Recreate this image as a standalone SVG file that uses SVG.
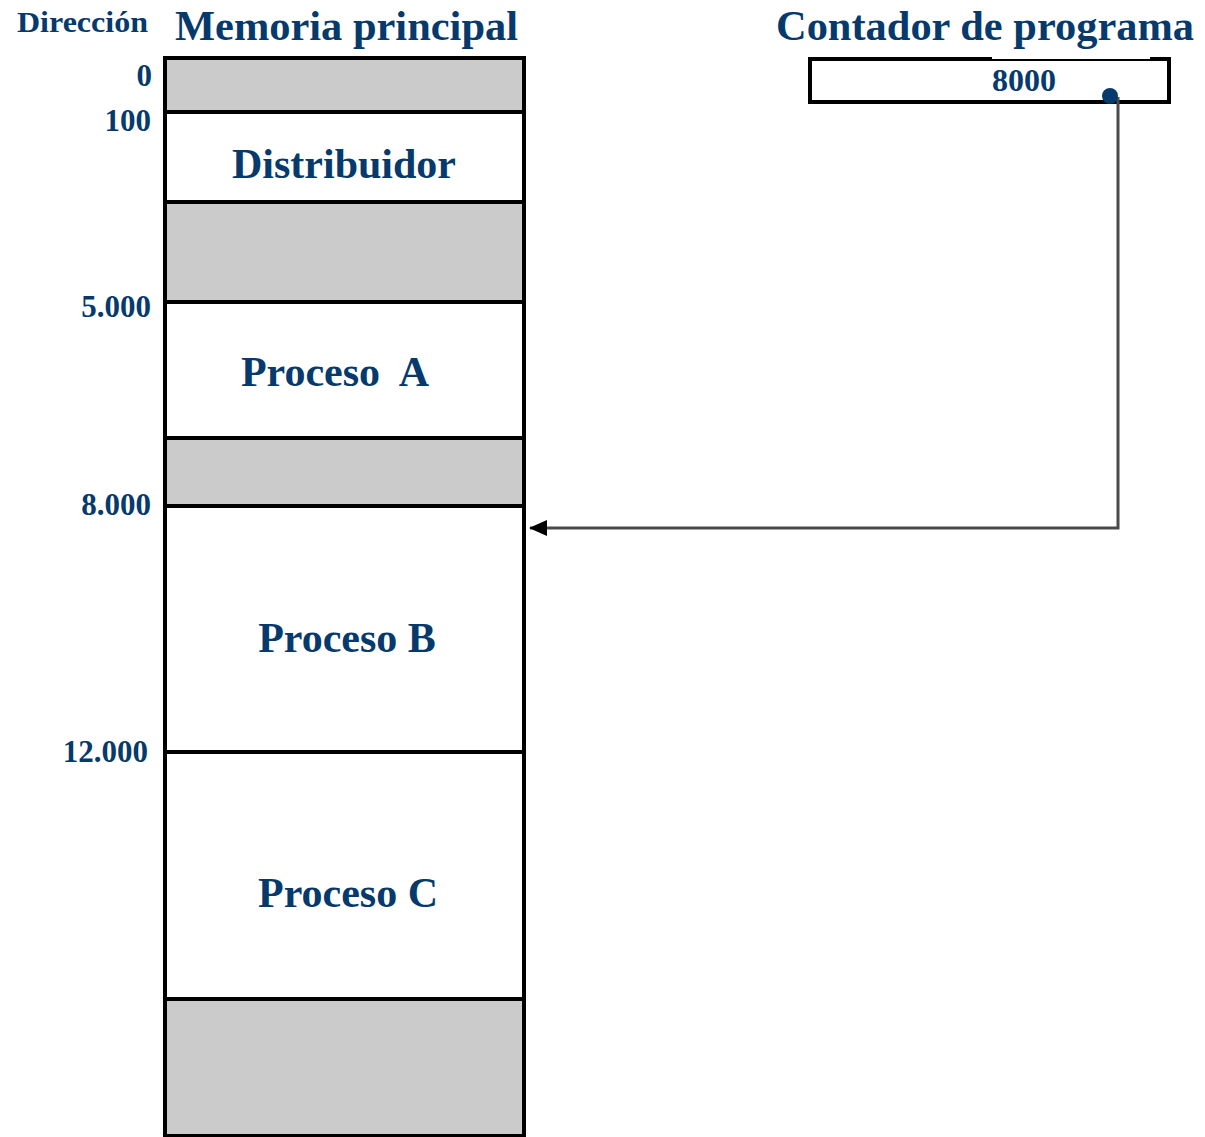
<svg xmlns="http://www.w3.org/2000/svg" width="1205" height="1137" viewBox="0 0 1205 1137">
<style>
text{font-family:"Liberation Serif","Times New Roman",serif;font-weight:bold;fill:#063a6c}
.seg{stroke:#000;stroke-width:4}
.free{fill:#cbcbcb}
.used{fill:#fff}
.big{font-size:42px}
.num{font-size:31px;text-anchor:end}
.lbl{font-size:42px;text-anchor:middle}
.conn{fill:none;stroke:#4a4a4a;stroke-width:3}
</style>
<defs>
<marker id="arr" markerWidth="18" markerHeight="16" refX="17" refY="8" orient="auto" markerUnits="userSpaceOnUse">
<path d="M0,0 L18,8 L0,16 Z" fill="#000"/>
</marker>
</defs>
<rect width="1205" height="1137" fill="#fff"/>
<g id="titles">
<text x="17" y="32" font-size="30" textLength="131" lengthAdjust="spacingAndGlyphs">Dirección</text>
<text x="175" y="40" class="big" textLength="343" lengthAdjust="spacingAndGlyphs">Memoria principal</text>
<text x="776" y="40" class="big" textLength="418" lengthAdjust="spacingAndGlyphs">Contador de programa</text>
</g>
<g id="addresses">
<text x="152" y="86" class="num">0</text>
<text x="151" y="131" class="num">100</text>
<text x="151" y="317" class="num">5.000</text>
<text x="151" y="515" class="num">8.000</text>
<text x="148" y="762" class="num">12.000</text>
</g>
<g id="memory">
<g id="seg-os-reserved"><rect class="seg free" x="165" y="58" width="359" height="54"/></g>
<g id="seg-distribuidor"><rect class="seg used" x="165" y="112" width="359" height="90"/>
<text x="344" y="178" class="lbl">Distribuidor</text></g>
<g id="seg-free1"><rect class="seg free" x="165" y="202" width="359" height="100"/></g>
<g id="seg-procesoA"><rect class="seg used" x="165" y="302" width="359" height="136"/>
<text x="335" y="386" class="lbl" xml:space="preserve">Proceso  A</text></g>
<g id="seg-free2"><rect class="seg free" x="165" y="438" width="359" height="68"/></g>
<g id="seg-procesoB"><rect class="seg used" x="165" y="506" width="359" height="246"/>
<text x="347" y="652" class="lbl">Proceso B</text></g>
<g id="seg-procesoC"><rect class="seg used" x="165" y="752" width="359" height="247"/>
<text x="348" y="907" class="lbl">Proceso C</text></g>
<g id="seg-free3"><rect class="seg free" x="165" y="999" width="359" height="137"/></g>
</g>
<g id="pc">
<rect x="810" y="59" width="359" height="43" fill="#fff" stroke="#000" stroke-width="4"/>
<rect x="992" y="56" width="158" height="3" fill="#fff"/>
<text x="1024" y="91" font-size="32" text-anchor="middle">8000</text>
</g>
<g id="connectors">
<polyline class="conn" points="1118,97 1118,528 530,528" marker-end="url(#arr)"/>
<circle cx="1110" cy="96" r="8" fill="#063a6c"/>
</g>
</svg>
